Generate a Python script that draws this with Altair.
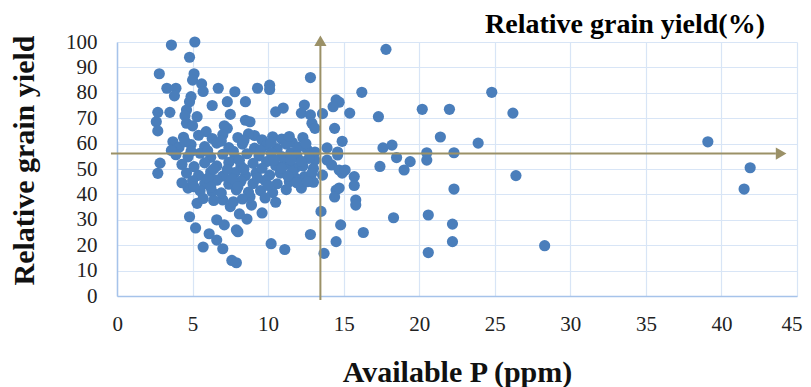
import altair as alt
import pandas as pd

# Available P (ppm) and relative grain yield (%)
avail_p = [
    3.6, 5.15, 4.8, 2.8, 5.1, 5.0, 5.6, 3.3, 3.9, 3.8, 5.7, 6.7, 7.8, 4.9, 9.3, 10.1, 10.1,
    7.3, 8.5, 6.3, 4.8, 4.6, 2.7, 3.5, 2.6, 2.7, 5.3, 4.6, 7.5, 8.5, 10.5, 11.0, 3.7, 2.85,
    2.7, 7.3, 5.9, 10.3, 9.1, 7.1, 8.8, 4.5, 5.0, 12.8, 16.2, 12.4, 12.2, 12.8, 14.5, 14.7,
    14.3, 13.6, 15.4, 17.3, 12.9, 13.1, 14.4, 12.3, 14.9, 13.9, 12.6, 13.1, 14.6, 17.8,
    20.2, 22.0, 24.8, 26.2, 21.4, 23.9, 39.1, 20.5, 20.5, 22.3, 26.4, 41.9, 41.5, 22.3,
    20.6, 22.2, 22.2, 20.6, 28.3, 17.6, 18.2, 18.5, 17.4, 19.4, 19.0, 11.5, 9.9, 11.1,
    11.5, 12.4, 11.8, 13.6, 14.2, 14.7, 14.9, 15.7, 15.7, 14.5, 14.4, 15.8, 15.8, 13.5,
    9.6, 14.8, 12.8, 16.3, 18.3, 14.5, 13.7, 10.2, 11.1, 4.7, 5.3, 4.8, 5.2, 5.7, 6.1,
    6.6, 7.0, 7.6, 7.9, 7.9, 8.6, 8.9, 8.1, 6.3, 7.0, 7.5, 14.7, 15.1, 12.2, 12.5, 11.8,
    13.1, 13.9, 14.6, 9.2, 10.1, 10.8, 11.4, 8.8, 6.6, 7.7, 7.1, 8.0,
    4.4, 5.4, 6.3, 7.0, 8.0, 8.7, 9.6, 10.9, 11.6,
    4.1, 4.9, 5.8, 6.6, 7.4, 8.3, 9.1, 9.9, 10.6, 11.2, 12.0,
    3.9, 4.7, 5.5, 6.2, 7.0, 7.8, 8.6, 9.4, 10.2, 10.9, 11.9, 12.7,
    4.3, 5.1, 5.8, 6.6, 7.4, 8.2, 9.0, 10.5, 12.3, 13.0,
    4.6, 5.4, 6.2, 7.0, 7.8, 8.5, 11.6, 12.9,
    4.3, 5.0, 5.8, 6.6, 7.4, 8.2, 9.0, 9.8, 10.6, 13.0,
    5.5, 6.9, 7.9, 8.7, 9.5, 10.3, 11.2,
    5.7, 6.4, 8.3, 9.8, 10.5,
    4.9, 6.0, 7.7, 9.5, 10.4, 11.5, 12.2, 8.1, 6.4, 9.6, 10.9, 11.3, 10.0, 11.9, 12.6,
    9.3, 6.0, 7.6, 5.1, 6.2, 8.0, 8.4, 4.5, 6.9, 8.4, 10.2, 11.4, 12.5, 3.6, 7.3,
]
rel_yield = [
    98.8, 100, 94, 87.5, 87.5, 85, 83.5, 81.8, 81.8, 78.8, 80.5, 81.8, 80.4, 78.5, 81.8, 83, 81.3,
    76.5, 76.5, 75, 76.5, 73.2, 72.3, 72.3, 68.6, 65, 70.6, 68, 71.5, 69.2, 72.5, 74, 60.7, 52.3,
    48.3, 66, 64.7, 62.7, 63.2, 67, 68.6, 71, 67, 86, 80.2, 75.2, 72, 71.3, 77.2, 76.3,
    74.5, 71.8, 72, 70.6, 68, 66, 66, 62.4, 60.9, 58.3, 57.5, 56.7, 56.7, 97.1,
    73.5, 73.5, 80.2, 72, 62.6, 60.2, 60.7, 56.4, 53.5, 56.4, 47.4, 50.5, 42.1, 42.1,
    31.9, 28.3, 21.4, 17.1, 19.8, 58.3, 59.4, 54.5, 51, 52.9, 49.6, 56.3, 52.9, 52.3,
    51.6, 47, 46.5, 47.6, 51.6, 49.6, 48.4, 47, 43.5, 41.7, 39, 37.8, 35.8, 33.3,
    32.7, 28, 24.2, 25, 30.8, 21.4, 16.8, 20.6, 18.3, 42.5, 36.5, 31.2, 26.8, 19.3, 24.5,
    22, 18.6, 14, 13.1, 26, 30.3, 35.8, 32.3, 41, 37.8, 35.2, 42.5, 49.6, 42.5, 46.5, 50.4,
    53.5, 53.5, 55.5, 48.3, 47.6, 48.4, 45, 39.1, 30, 37.1, 28, 25.3,
    62.5, 63.3, 62, 63.5, 62.4, 63.8, 61.5, 61.8, 60.5,
    58.5, 59.6, 58.8, 60.2, 58.4, 59.8, 58.2, 59.5, 58.0, 59.8, 58.6,
    55.6, 54.8, 56.2, 54.6, 55.8, 54.4, 56.0, 55.2, 56.3, 54.9, 55.3, 54.2,
    51.8, 50.9, 52.4, 51.2, 52.6, 51.0, 52.2, 51.4, 51.2, 50.2,
    48.4, 47.5, 48.8, 47.2, 48.6, 47.4, 48.9, 48.3,
    44.6, 45.3, 44.2, 45.6, 44.0, 45.2, 44.3, 45.5, 44.2, 44.8,
    41.4, 40.6, 41.8, 40.9, 41.5, 40.7, 41.9,
    38.4, 37.6, 38.2, 38.6, 36.9,
    57.0, 57.2, 57.0, 57.3, 53.6, 53.5, 53.0, 53.4, 50.0, 50.3, 50.3, 47.2, 43.5, 44.6, 45.0,
    46.4, 46.3, 46.2, 43.0, 42.8, 43.0, 50.0, 60.8, 61.0, 61.2, 60.5, 62.8, 60.0, 57.3, 49.8,
]

# Reference (critical) lines drawn as arrows
crit_p = 13.46
crit_yield = 56.1

x_ticks = list(range(0, 50, 5))
y_ticks = list(range(0, 110, 10))

FONT = "Liberation Serif"
ARROW = "#9b9167"


def enc_x(field):
    return alt.X(f"{field}:Q", scale=alt.Scale(domain=[0, 45], nice=False),
                 axis=alt.Axis(values=x_ticks, title="Available P (ppm)", ticks=False,
                               labelPadding=17, titlePadding=23, labelOverlap=False,
                               labelFlush=True, labelFlushOffset=5, titleFontSize=30))


def enc_y(field):
    return alt.Y(f"{field}:Q", scale=alt.Scale(domain=[0, 100], nice=False),
                 axis=alt.Axis(values=y_ticks, title="Relative grain yield", ticks=False,
                               labelPadding=20, labelOverlap=False, labelFlush=False,
                               titleFontSize=30, titleX=-93, titleY=118,
                               titleBaseline="middle", titleAlign="center", titleAngle=270))


pts = pd.DataFrame({"p": avail_p, "y": rel_yield})
points = alt.Chart(pts).mark_circle(size=125, color="#4a7ebb", opacity=1).encode(
    x=enc_x("p"), y=enc_y("y"))

rules_df = pd.DataFrame({
    "p": [-0.4, crit_p],
    "p2": [43.6, crit_p],
    "y": [crit_yield, -1.6],
    "y2": [crit_yield, 100.0],
})
rules = alt.Chart(rules_df).mark_rule(color=ARROW, strokeWidth=2).encode(
    x=enc_x("p"), x2="p2:Q", y=enc_y("y"), y2="y2:Q")

heads_df = pd.DataFrame({
    "p": [crit_p, 43.95],
    "y": [100.5, crit_yield],
    "shape": ["triangle-up", "triangle-right"],
})
heads = alt.Chart(heads_df).mark_point(filled=True, size=150, color=ARROW, opacity=1).encode(
    x=enc_x("p"), y=enc_y("y"), shape=alt.Shape("shape:N", scale=None))

chart = alt.layer(points, rules, heads).properties(
    width=680, height=254,
    title=alt.TitleParams("Relative grain yield(%)", anchor="end", font=FONT,
                          fontSize=28, fontWeight="bold", color="black", dx=-37, dy=12,
                          offset=4),
    autosize=alt.AutoSizeParams(type="none"),
    padding={"left": 109, "top": 34, "right": 6, "bottom": 91},
).configure_axis(
    gridColor="#d8e5f6", gridWidth=1.2, domainColor="#a6c3ea", domainWidth=1.5,
    labelFont=FONT, labelFontSize=21, labelColor="#222222",
    titleFont=FONT, titleFontSize=28, titleFontWeight="bold", titleColor="#111111",
).configure_view(stroke=None)

chart.save("out.html", embed_options={"renderer": "svg", "actions": False})
